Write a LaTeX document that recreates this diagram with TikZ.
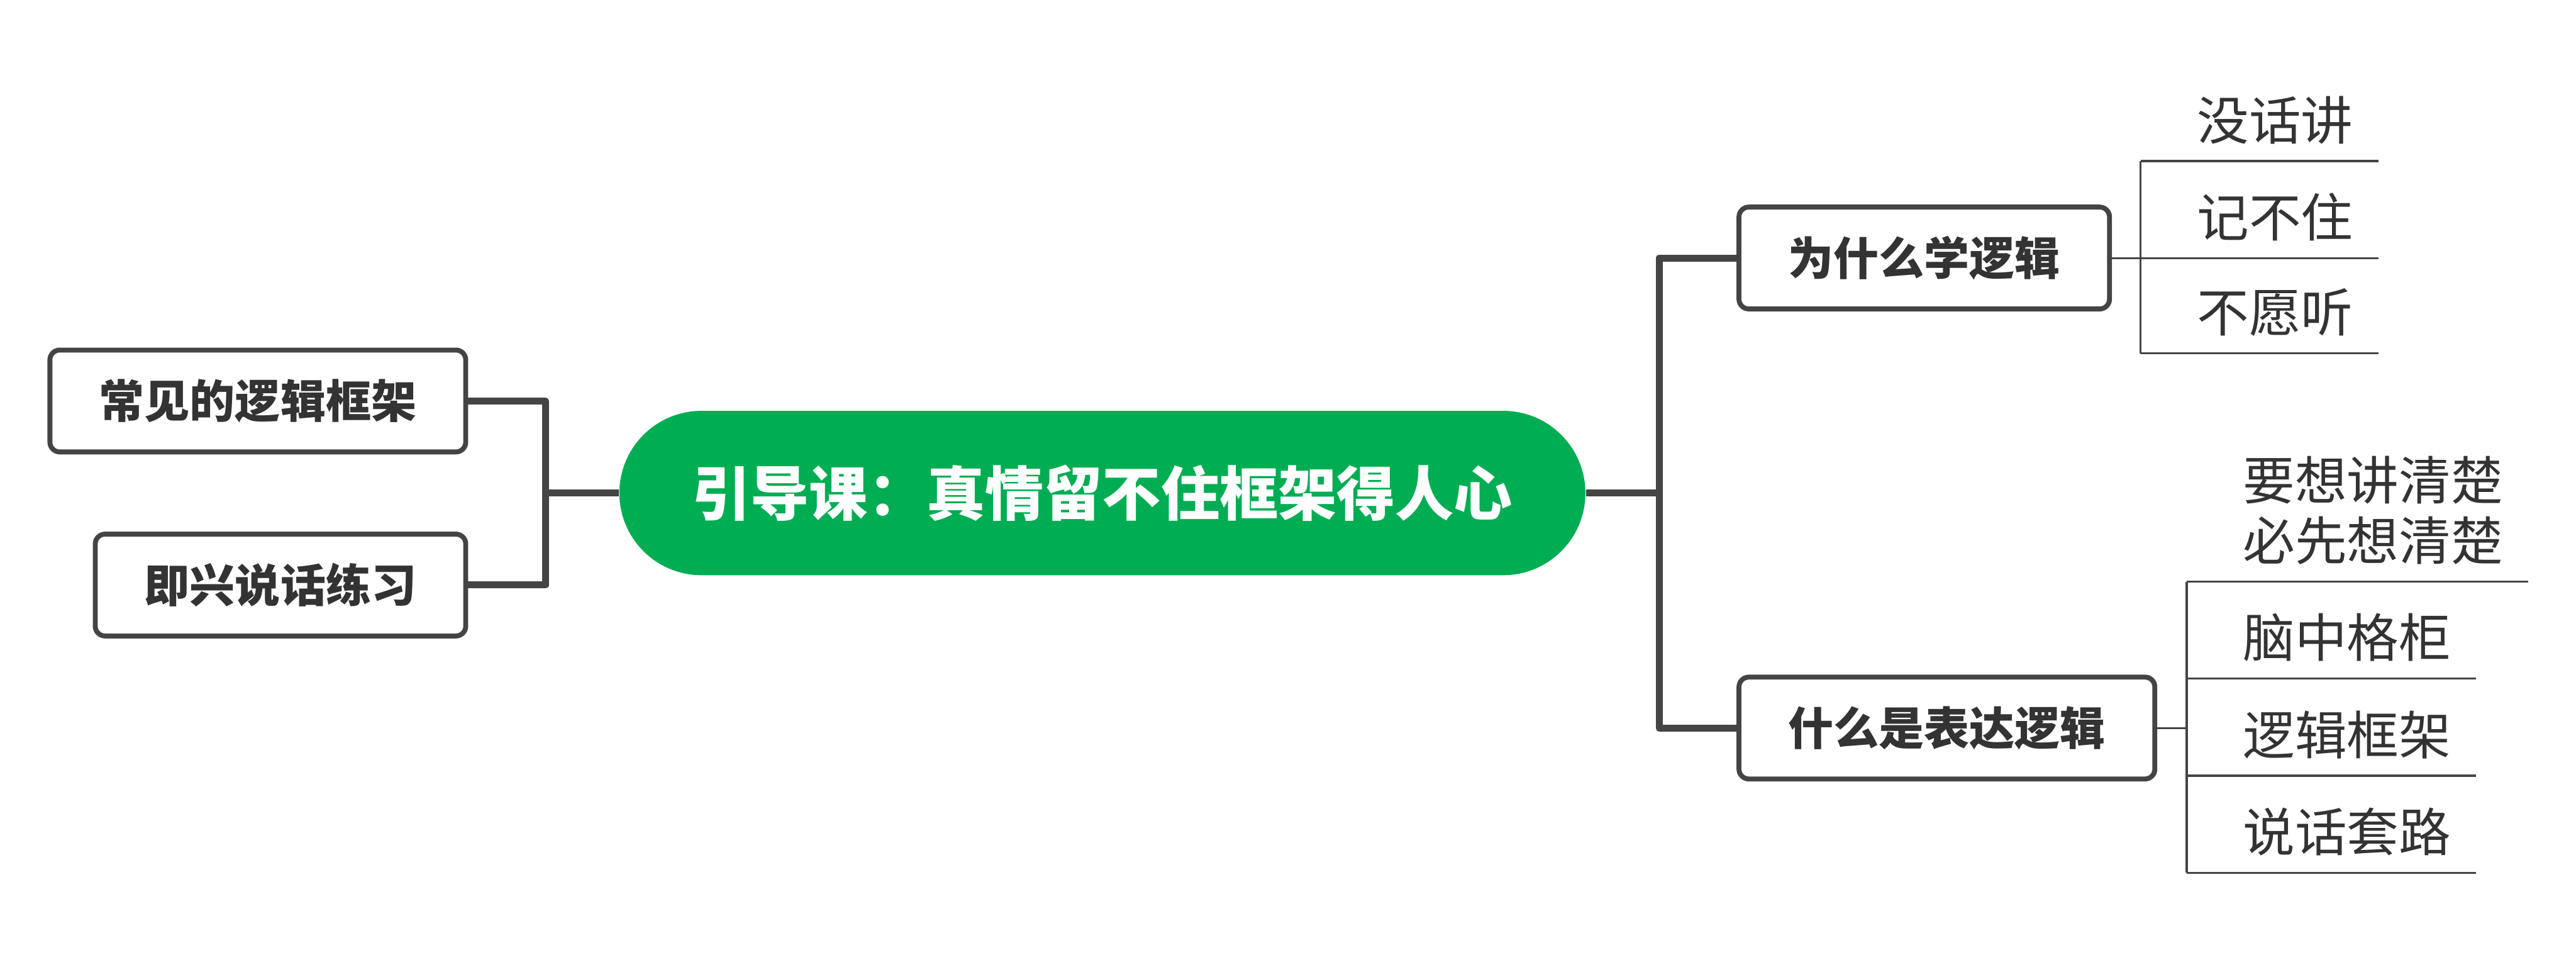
\documentclass[tikz,border=0pt]{standalone}
\usepackage{fontspec}
\newfontfamily\cjk{Noto Sans CJK SC}
\usetikzlibrary{positioning}
\definecolor{RootGreen}{RGB}{0,173,83}
\definecolor{LineGray}{RGB}{68,68,68}
\definecolor{InkGray}{RGB}{51,51,51}

\begin{document}
\begin{tikzpicture}[
x=0.2mm,y=-0.2mm,
root/.style={rectangle,rounded corners=10mm,fill=RootGreen,minimum width=117.6mm,minimum height=20mm,text=white,font=\cjk\bfseries\fontsize{20.3}{24}\selectfont},
topic/.style={rectangle,rounded corners=1.2mm,draw=LineGray,line width=1.7pt,fill=white,minimum height=12.4mm,inner xsep=6mm,text=InkGray,font=\cjk\bfseries\fontsize{15.7}{19}\selectfont},
leaf/.style={anchor=south west,inner xsep=0pt,inner ysep=2mm,align=left,text=InkGray,font=\cjk\fontsize{18}{21}\selectfont},
trunk/.style={draw=LineGray,line width=2.4pt,line join=round},
twig/.style={draw=LineGray,line width=0.7pt}
]
\useasboundingbox (0,0) rectangle (1568,581);

% centre
\node[root] (root) at (671,300) {引导课：真情留不住框架得人心};

% left side
\node[topic,anchor=east] (frame) at (285,244) {常见的逻辑框架};
\node[topic,anchor=east] (talk) at (285,356) {即兴说话练习};
\coordinate (jl) at (332,300);
\draw[trunk] (root.west) -- (jl);
\draw[trunk] (frame.east) -| (jl) |- (talk.east);

% right side
\node[topic,anchor=west] (why) at (1057,157) {为什么学逻辑};
\node[topic,anchor=west] (what) at (1057,443) {什么是表达逻辑};
\coordinate (jr) at (1010,300);
\draw[trunk] (root.east) -- (jr);
\draw[trunk] (why.west) -| (jr) |- (what.west);

% why: leaves
\coordinate (s1) at (1303,157);
\node[leaf] (w1) at (1337,98) {没话讲};
\node[leaf] (w2) at (1337,157) {记不住};
\node[leaf] (w3) at (1337,215) {不愿听};
\draw[twig] (why.east) -- (s1);
\draw[twig] (w1.south -| s1) -- (w3.south -| s1);
\foreach \l in {w1,w2,w3}
  \draw[twig] (\l.south -| s1) -- ([xshift=3mm]\l.south east);

% what: leaves
\coordinate (s2) at (1331,443);
\node[leaf] (h1) at (1365,354) {要想讲清楚\\必先想清楚};
\node[leaf] (h2) at (1365,413) {脑中格柜};
\node[leaf] (h3) at (1365,472) {逻辑框架};
\node[leaf] (h4) at (1365,531) {说话套路};
\draw[twig] (what.east) -- (s2);
\draw[twig] (h1.south -| s2) -- (h4.south -| s2);
\foreach \l in {h1,h2,h3,h4}
  \draw[twig] (\l.south -| s2) -- ([xshift=3mm]\l.south east);
\end{tikzpicture}
\end{document}
